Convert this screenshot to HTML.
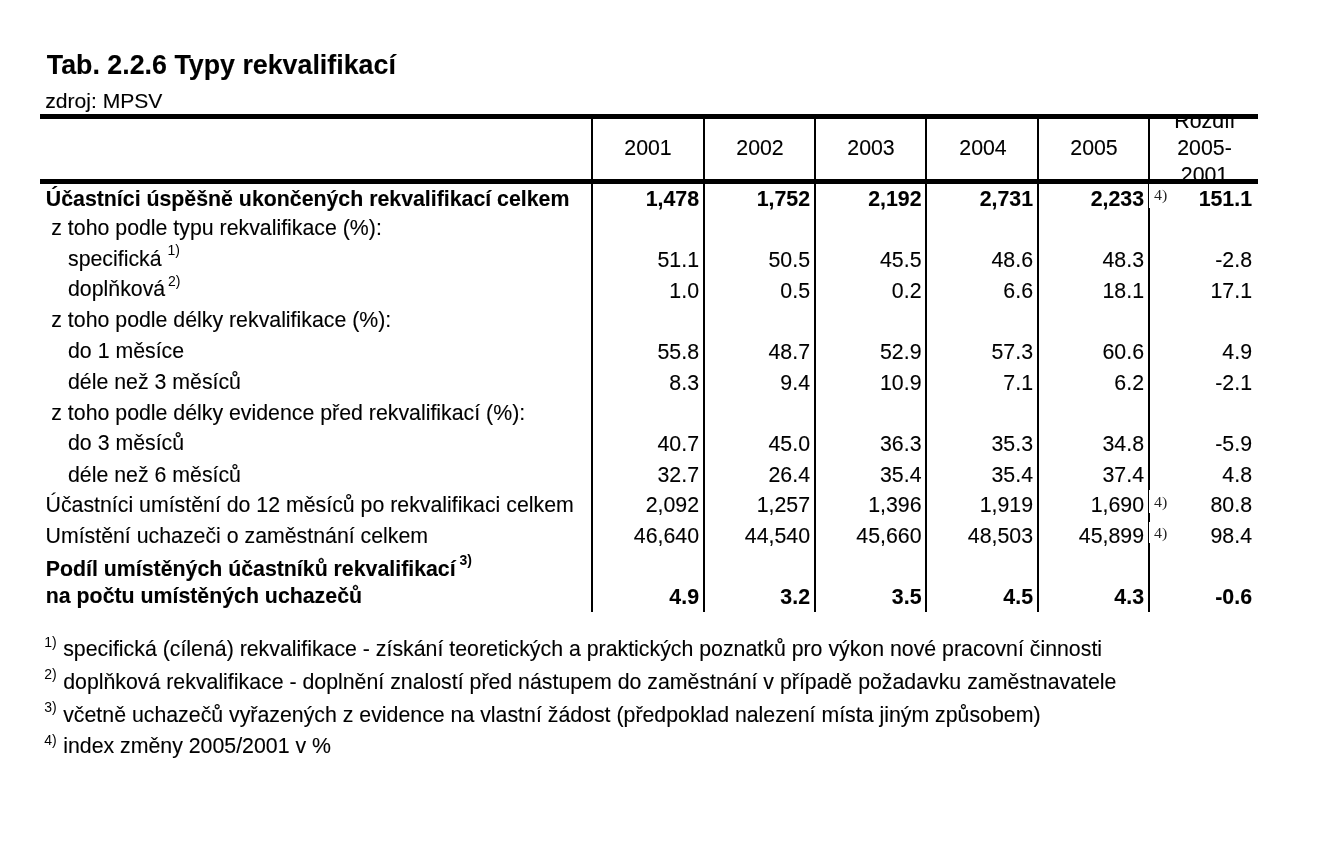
<!DOCTYPE html>
<html><head><meta charset="utf-8"><title>Tab. 2.2.6 Typy rekvalifikací</title>
<style>
html,body{margin:0;padding:0;background:#fff;}
body{width:1334px;height:856px;position:relative;overflow:hidden;font-family:"Liberation Sans",sans-serif;color:#000;}
#w{position:absolute;left:0;top:0;width:1334px;height:856px;will-change:transform;}
.t{position:absolute;white-space:nowrap;margin:0;padding:0;-webkit-text-stroke:0.12px #000;}
.r{position:absolute;}
sup{font-size:14px;line-height:0;vertical-align:baseline;position:relative;top:-11px;-webkit-text-stroke:0;}
sup.b{font-weight:bold;}
</style></head><body>
<div id="w">
<div class="t" style="top:50.00px;font-size:26.8px;line-height:30px;font-weight:bold;left:46.80px;">Tab. 2.2.6 Typy rekvalifikací</div>
<div class="t" style="top:86.00px;font-size:21.1px;line-height:30px;left:45.20px;">zdroj: MPSV</div>
<div class="r" style="left:40px;top:114px;width:1218px;height:5px;background:#000"></div>
<div class="r" style="left:40px;top:179px;width:1218px;height:5px;background:#000"></div>
<div class="r" style="left:591px;top:119px;width:2px;height:493px;background:#000"></div>
<div class="r" style="left:703px;top:119px;width:2px;height:493px;background:#000"></div>
<div class="r" style="left:814px;top:119px;width:2px;height:493px;background:#000"></div>
<div class="r" style="left:925px;top:119px;width:2px;height:493px;background:#000"></div>
<div class="r" style="left:1037px;top:119px;width:2px;height:493px;background:#000"></div>
<div class="r" style="left:1148px;top:119px;width:2px;height:493px;background:#000"></div>
<div class="t" style="left:598px;width:100px;text-align:center;top:133.00px;font-size:21.32px;line-height:30px">2001</div>
<div class="t" style="left:710px;width:100px;text-align:center;top:133.00px;font-size:21.32px;line-height:30px">2002</div>
<div class="t" style="left:821px;width:100px;text-align:center;top:133.00px;font-size:21.32px;line-height:30px">2003</div>
<div class="t" style="left:933px;width:100px;text-align:center;top:133.00px;font-size:21.32px;line-height:30px">2004</div>
<div class="t" style="left:1044px;width:100px;text-align:center;top:133.00px;font-size:21.32px;line-height:30px">2005</div>
<div class="r" style="left:1150px;top:119px;width:109px;height:60px;overflow:hidden"><div class="t" style="left:0;width:109px;text-align:center;top:-13.00px;font-size:21.32px;line-height:30px">Rozdíl</div><div class="t" style="left:0;width:109px;text-align:center;top:14.00px;font-size:21.32px;line-height:30px">2005-</div><div class="t" style="left:0;width:109px;text-align:center;top:41.00px;font-size:21.32px;line-height:30px">2001</div></div>
<div class="t" style="top:184.00px;font-size:21.32px;line-height:30px;font-weight:bold;left:45.80px;">Účastníci úspěšně ukončených rekvalifikací celkem</div>
<div class="t" style="top:184.00px;font-size:21.32px;line-height:30px;font-weight:bold;right:635.00px;">1,478</div>
<div class="t" style="top:184.00px;font-size:21.32px;line-height:30px;font-weight:bold;right:524.00px;">1,752</div>
<div class="t" style="top:184.00px;font-size:21.32px;line-height:30px;font-weight:bold;right:412.50px;">2,192</div>
<div class="t" style="top:184.00px;font-size:21.32px;line-height:30px;font-weight:bold;right:301.00px;">2,731</div>
<div class="t" style="top:184.00px;font-size:21.32px;line-height:30px;font-weight:bold;right:190.00px;">2,233</div>
<div class="t" style="top:184.00px;font-size:21.32px;line-height:30px;font-weight:bold;right:82.00px;">151.1</div>
<div class="t" style="top:213.00px;font-size:21.32px;line-height:30px;left:51.30px;">z toho podle typu rekvalifikace (%):</div>
<div class="t" style="top:244.00px;font-size:21.32px;line-height:30px;left:68.00px;">specifická <sup>1)</sup></div>
<div class="t" style="top:245.00px;font-size:21.32px;line-height:30px;right:635.00px;">51.1</div>
<div class="t" style="top:245.00px;font-size:21.32px;line-height:30px;right:524.00px;">50.5</div>
<div class="t" style="top:245.00px;font-size:21.32px;line-height:30px;right:412.50px;">45.5</div>
<div class="t" style="top:245.00px;font-size:21.32px;line-height:30px;right:301.00px;">48.6</div>
<div class="t" style="top:245.00px;font-size:21.32px;line-height:30px;right:190.00px;">48.3</div>
<div class="t" style="top:245.00px;font-size:21.32px;line-height:30px;right:82.00px;">-2.8</div>
<div class="t" style="top:274.00px;font-size:21.32px;line-height:30px;left:68.00px;">doplňková<sup style="top:-10px;margin-left:-1px"> 2)</sup></div>
<div class="t" style="top:276.00px;font-size:21.32px;line-height:30px;right:635.00px;">1.0</div>
<div class="t" style="top:276.00px;font-size:21.32px;line-height:30px;right:524.00px;">0.5</div>
<div class="t" style="top:276.00px;font-size:21.32px;line-height:30px;right:412.50px;">0.2</div>
<div class="t" style="top:276.00px;font-size:21.32px;line-height:30px;right:301.00px;">6.6</div>
<div class="t" style="top:276.00px;font-size:21.32px;line-height:30px;right:190.00px;">18.1</div>
<div class="t" style="top:276.00px;font-size:21.32px;line-height:30px;right:82.00px;">17.1</div>
<div class="t" style="top:305.00px;font-size:21.32px;line-height:30px;left:51.30px;">z toho podle délky rekvalifikace (%):</div>
<div class="t" style="top:336.00px;font-size:21.32px;line-height:30px;left:68.00px;">do 1 měsíce</div>
<div class="t" style="top:337.00px;font-size:21.32px;line-height:30px;right:635.00px;">55.8</div>
<div class="t" style="top:337.00px;font-size:21.32px;line-height:30px;right:524.00px;">48.7</div>
<div class="t" style="top:337.00px;font-size:21.32px;line-height:30px;right:412.50px;">52.9</div>
<div class="t" style="top:337.00px;font-size:21.32px;line-height:30px;right:301.00px;">57.3</div>
<div class="t" style="top:337.00px;font-size:21.32px;line-height:30px;right:190.00px;">60.6</div>
<div class="t" style="top:337.00px;font-size:21.32px;line-height:30px;right:82.00px;">4.9</div>
<div class="t" style="top:367.00px;font-size:21.32px;line-height:30px;left:68.00px;">déle než 3 měsíců</div>
<div class="t" style="top:368.00px;font-size:21.32px;line-height:30px;right:635.00px;">8.3</div>
<div class="t" style="top:368.00px;font-size:21.32px;line-height:30px;right:524.00px;">9.4</div>
<div class="t" style="top:368.00px;font-size:21.32px;line-height:30px;right:412.50px;">10.9</div>
<div class="t" style="top:368.00px;font-size:21.32px;line-height:30px;right:301.00px;">7.1</div>
<div class="t" style="top:368.00px;font-size:21.32px;line-height:30px;right:190.00px;">6.2</div>
<div class="t" style="top:368.00px;font-size:21.32px;line-height:30px;right:82.00px;">-2.1</div>
<div class="t" style="top:398.00px;font-size:21.32px;line-height:30px;left:51.30px;">z toho podle délky evidence před rekvalifikací (%):</div>
<div class="t" style="top:428.00px;font-size:21.32px;line-height:30px;left:68.00px;">do 3 měsíců</div>
<div class="t" style="top:429.00px;font-size:21.32px;line-height:30px;right:635.00px;">40.7</div>
<div class="t" style="top:429.00px;font-size:21.32px;line-height:30px;right:524.00px;">45.0</div>
<div class="t" style="top:429.00px;font-size:21.32px;line-height:30px;right:412.50px;">36.3</div>
<div class="t" style="top:429.00px;font-size:21.32px;line-height:30px;right:301.00px;">35.3</div>
<div class="t" style="top:429.00px;font-size:21.32px;line-height:30px;right:190.00px;">34.8</div>
<div class="t" style="top:429.00px;font-size:21.32px;line-height:30px;right:82.00px;">-5.9</div>
<div class="t" style="top:460.00px;font-size:21.32px;line-height:30px;left:68.00px;">déle než 6 měsíců</div>
<div class="t" style="top:460.00px;font-size:21.32px;line-height:30px;right:635.00px;">32.7</div>
<div class="t" style="top:460.00px;font-size:21.32px;line-height:30px;right:524.00px;">26.4</div>
<div class="t" style="top:460.00px;font-size:21.32px;line-height:30px;right:412.50px;">35.4</div>
<div class="t" style="top:460.00px;font-size:21.32px;line-height:30px;right:301.00px;">35.4</div>
<div class="t" style="top:460.00px;font-size:21.32px;line-height:30px;right:190.00px;">37.4</div>
<div class="t" style="top:460.00px;font-size:21.32px;line-height:30px;right:82.00px;">4.8</div>
<div class="t" style="top:490.00px;font-size:21.32px;line-height:30px;left:45.50px;">Účastníci umístění do 12 měsíců po rekvalifikaci celkem</div>
<div class="t" style="top:490.00px;font-size:21.32px;line-height:30px;right:635.00px;">2,092</div>
<div class="t" style="top:490.00px;font-size:21.32px;line-height:30px;right:524.00px;">1,257</div>
<div class="t" style="top:490.00px;font-size:21.32px;line-height:30px;right:412.50px;">1,396</div>
<div class="t" style="top:490.00px;font-size:21.32px;line-height:30px;right:301.00px;">1,919</div>
<div class="t" style="top:490.00px;font-size:21.32px;line-height:30px;right:190.00px;">1,690</div>
<div class="t" style="top:490.00px;font-size:21.32px;line-height:30px;right:82.00px;">80.8</div>
<div class="t" style="top:521.00px;font-size:21.32px;line-height:30px;left:45.50px;">Umístění uchazeči o zaměstnání celkem</div>
<div class="t" style="top:521.00px;font-size:21.32px;line-height:30px;right:635.00px;">46,640</div>
<div class="t" style="top:521.00px;font-size:21.32px;line-height:30px;right:524.00px;">44,540</div>
<div class="t" style="top:521.00px;font-size:21.32px;line-height:30px;right:412.50px;">45,660</div>
<div class="t" style="top:521.00px;font-size:21.32px;line-height:30px;right:301.00px;">48,503</div>
<div class="t" style="top:521.00px;font-size:21.32px;line-height:30px;right:190.00px;">45,899</div>
<div class="t" style="top:521.00px;font-size:21.32px;line-height:30px;right:82.00px;">98.4</div>
<div class="t" style="top:554.00px;font-size:21.32px;line-height:30px;font-weight:bold;left:45.80px;">Podíl umístěných účastníků rekvalifikací<sup class="b"> 3)</sup></div>
<div class="t" style="top:581.00px;font-size:21.32px;line-height:30px;font-weight:bold;left:45.80px;">na počtu umístěných uchazečů</div>
<div class="t" style="top:582.00px;font-size:21.32px;line-height:30px;font-weight:bold;right:635.00px;">4.9</div>
<div class="t" style="top:582.00px;font-size:21.32px;line-height:30px;font-weight:bold;right:524.00px;">3.2</div>
<div class="t" style="top:582.00px;font-size:21.32px;line-height:30px;font-weight:bold;right:412.50px;">3.5</div>
<div class="t" style="top:582.00px;font-size:21.32px;line-height:30px;font-weight:bold;right:301.00px;">4.5</div>
<div class="t" style="top:582.00px;font-size:21.32px;line-height:30px;font-weight:bold;right:190.00px;">4.3</div>
<div class="t" style="top:582.00px;font-size:21.32px;line-height:30px;font-weight:bold;right:82.00px;">-0.6</div>
<div class="r" style="left:1149px;top:184px;width:30px;height:24px;background:#fff"></div>
<div class="t" style="top:180.00px;font-size:14.2px;line-height:30px;font-family:'Liberation Serif',serif;color:#222;left:1153.50px;transform:scale(1.12,1.0);transform-origin:0 19.80px;-webkit-text-stroke:0;">4)</div>
<div class="r" style="left:1149px;top:490px;width:30px;height:23px;background:#fff"></div>
<div class="t" style="top:487.00px;font-size:14.2px;line-height:30px;font-family:'Liberation Serif',serif;color:#222;left:1153.50px;transform:scale(1.12,1.0);transform-origin:0 19.70px;-webkit-text-stroke:0;">4)</div>
<div class="r" style="left:1149px;top:522px;width:30px;height:21px;background:#fff"></div>
<div class="t" style="top:518.00px;font-size:14.2px;line-height:30px;font-family:'Liberation Serif',serif;color:#222;left:1153.50px;transform:scale(1.12,1.0);transform-origin:0 19.90px;-webkit-text-stroke:0;">4)</div>
<div class="t" style="top:627.00px;font-size:14px;line-height:30px;left:44.30px;-webkit-text-stroke:0;">1)</div>
<div class="t" style="top:634.00px;font-size:21.32px;line-height:30px;left:63.20px;">specifická (cílená) rekvalifikace - získání teoretických a praktických poznatků pro výkon nové pracovní činnosti</div>
<div class="t" style="top:659.00px;font-size:14px;line-height:30px;left:44.30px;-webkit-text-stroke:0;">2)</div>
<div class="t" style="top:667.00px;font-size:21.32px;line-height:30px;left:63.20px;">doplňková rekvalifikace - doplnění znalostí před nástupem do zaměstnání v případě požadavku zaměstnavatele</div>
<div class="t" style="top:692.00px;font-size:14px;line-height:30px;left:44.30px;-webkit-text-stroke:0;">3)</div>
<div class="t" style="top:700.00px;font-size:21.32px;line-height:30px;left:63.20px;">včetně uchazečů vyřazených z evidence na vlastní žádost (předpoklad nalezení místa jiným způsobem)</div>
<div class="t" style="top:725.00px;font-size:14px;line-height:30px;left:44.30px;-webkit-text-stroke:0;">4)</div>
<div class="t" style="top:731.00px;font-size:21.32px;line-height:30px;left:63.20px;">index změny 2005/2001 v %</div>
</div>
</body></html>
